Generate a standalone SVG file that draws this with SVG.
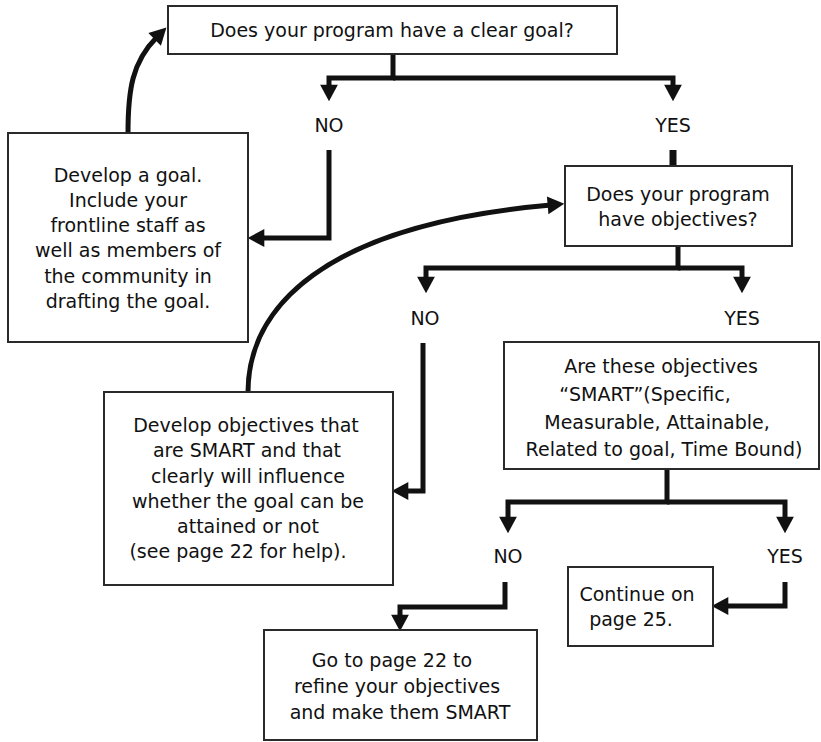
<svg xmlns="http://www.w3.org/2000/svg" width="821" height="742" viewBox="0 0 821 742">
  <defs>
    <marker id="head" markerUnits="userSpaceOnUse" markerWidth="20" markerHeight="20" viewBox="-4 -9 18 18" refX="0" refY="0" orient="auto">
      <path d="M-3,-8 L12,0 L-3,8 Z" fill="#111"/>
    </marker>
    <style>
      .box rect { fill: #fff; stroke: #2a2a2a; stroke-width: 2; }
      .box text, .lbl { font-family: "DejaVu Sans", "Liberation Sans", sans-serif; font-size: 19px; fill: #111; text-anchor: middle; }
      .conn path { fill: none; stroke: #111; stroke-width: 5; stroke-linejoin: miter; }
      .conn path.arrow { marker-end: url(#head); }
    </style>
  </defs>
  <rect width="821" height="742" fill="#fff"/>

  <!-- connectors -->
  <g id="connectors" class="conn">
    <path d="M393,54 V78 H329 V88" class="arrow"/>
    <path d="M393,78 H673 V88" class="arrow"/>
    <path d="M329,150 V238 H261" class="arrow"/>
    <path d="M673,150 V167" style="stroke-width:7"/>
    <path d="M128,133 C128,90 132,62 157,37" class="arrow"/>
    <path d="M678,246 V268 H426 V280" class="arrow"/>
    <path d="M678,268 H742 V280" class="arrow"/>
    <path d="M248,392 C248,310 320,225 551,205" class="arrow"/>
    <path d="M423,343 V491 H405" class="arrow"/>
    <path d="M667,469 V502 H508 V520" class="arrow"/>
    <path d="M667,502 H785 V520" class="arrow"/>
    <path d="M505,582 V607 H400 V618" class="arrow"/>
    <path d="M785,582 V606 H725" class="arrow"/>
  </g>

  <!-- branch labels -->
  <g id="labels">
    <text class="lbl" x="329" y="132">NO</text>
    <text class="lbl" x="673" y="132">YES</text>
    <text class="lbl" x="425" y="325">NO</text>
    <text class="lbl" x="742" y="325">YES</text>
    <text class="lbl" x="508" y="563">NO</text>
    <text class="lbl" x="785" y="563">YES</text>
  </g>

  <g id="q-goal" class="box">
    <rect x="168" y="6" width="449" height="48"/>
    <text x="392" y="37">Does your program have a clear goal?</text>
  </g>

  <g id="develop-goal" class="box">
    <rect x="8" y="133" width="240" height="209"/>
    <text x="128" y="182">Develop a goal.</text>
    <text x="128" y="207">Include your</text>
    <text x="128" y="232">frontline staff as</text>
    <text x="128" y="257">well as members of</text>
    <text x="128" y="283">the community in</text>
    <text x="128" y="308">drafting the goal.</text>
  </g>

  <g id="q-objectives" class="box">
    <rect x="565" y="166" width="227" height="80"/>
    <text x="678" y="201">Does your program</text>
    <text x="678" y="226">have objectives?</text>
  </g>

  <g id="develop-objectives" class="box">
    <rect x="104" y="392" width="289" height="193"/>
    <text x="246" y="432">Develop objectives that</text>
    <text x="247" y="457">are SMART and that</text>
    <text x="248" y="483">clearly will influence</text>
    <text x="248" y="508">whether the goal can be</text>
    <text x="248" y="533">attained or not</text>
    <text x="238" y="558">(see page 22 for help).</text>
  </g>

  <g id="q-smart" class="box">
    <rect x="504" y="342" width="315" height="127"/>
    <text x="661" y="373">Are these objectives</text>
    <text x="645" y="401">“SMART”(Specific,</text>
    <text x="657" y="429">Measurable, Attainable,</text>
    <text x="664" y="456">Related to goal, Time Bound)</text>
  </g>

  <g id="continue" class="box">
    <rect x="568" y="567" width="145" height="79"/>
    <text x="637" y="601">Continue on</text>
    <text x="631" y="626">page 25.</text>
  </g>

  <g id="refine" class="box">
    <rect x="264" y="630" width="273" height="110"/>
    <text x="392" y="667">Go to page 22 to</text>
    <text x="397" y="693">refine your objectives</text>
    <text x="400" y="719">and make them SMART</text>
  </g>
</svg>
